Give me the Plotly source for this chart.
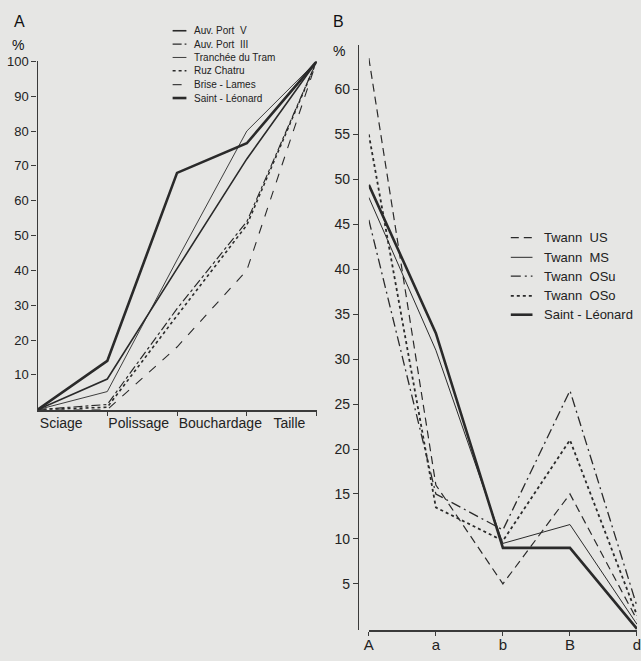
import plotly.graph_objects as go

W, H = 641, 661

# ---- Panel A: cumulative share (%) along the working sequence ----
stages_a = ["Sciage", "Polissage", "Bouchardage", "Taille"]
bounds_a = [0, 1, 2, 3, 4]
auv_port_v = [0, 8.8, 40.5, 72, 100]
auv_port_iii = [0, 1.5, 29, 54, 100]
tranchee_du_tram = [0, 5.2, 43, 80, 100]
ruz_chatru = [0, 0.7, 27, 53, 100]
brise_lames = [0, 0, 18, 40, 100]
saint_leonard_a = [0, 14, 68, 76.5, 100]
yticks_a = [10, 20, 30, 40, 50, 60, 70, 80, 90, 100]

# ---- Panel B: share (%) per class ----
classes_b = ["A", "a", "b", "B", "d"]
twann_us = [63.5, 16, 5, 15, 1]
twann_ms = [48, 31, 9.5, 11.6, 0.5]
twann_osu = [45.5, 15, 11, 26.5, 2.5]
twann_oso = [55, 13.5, 9.8, 21, 1.5]
saint_leonard_b = [49.4, 32.9, 9, 9, 0]
yticks_b = [5, 10, 15, 20, 25, 30, 35, 40, 45, 50, 55, 60]

INK = "#2a2a2a"
BG = "#e6e6e4"
FONT = "Liberation Sans, Arial, sans-serif"
NB = "\u00a0"

series_a = [
    ("Auv. Port" + NB * 2 + "V", auv_port_v, "solid", 1.6),
    ("Auv. Port" + NB * 2 + "III", auv_port_iii, "dashdot", 1.2),
    ("Tranchée du Tram", tranchee_du_tram, "solid", 0.9),
    ("Ruz Chatru", ruz_chatru, "dot", 1.6),
    ("Brise - Lames", brise_lames, "dash", 1.1),
    ("Saint - Léonard", saint_leonard_a, "solid", 2.6),
]
series_b = [
    ("Twann" + NB * 2 + "US", twann_us, "8px,5px", 1.2),
    ("Twann" + NB * 2 + "MS", twann_ms, "solid", 1.0),
    ("Twann" + NB * 2 + "OSu", twann_osu, "10px,4px,2px,4px", 1.3),
    ("Twann" + NB * 2 + "OSo", twann_oso, "dot", 1.8),
    ("Saint - Léonard", saint_leonard_b, "solid", 2.6),
]


def px_x(p):
    return p / W


def px_y(p):
    return 1 - p / H


fig = go.Figure()

for name, vals, dash, width in series_a:
    fig.add_trace(go.Scatter(
        x=bounds_a, y=vals, mode="lines", name=name, showlegend=False,
        line=dict(color=INK, width=width, dash=dash),
        xaxis="x", yaxis="y"))

xb = list(range(len(classes_b)))
for name, vals, dash, width in series_b:
    fig.add_trace(go.Scatter(
        x=xb, y=vals, mode="lines", name=name, showlegend=False,
        line=dict(color=INK, width=width, dash=dash),
        xaxis="x2", yaxis="y2"))

# stage labels sit inside each interval between boundary ticks
label_pos_a = [0.34, 1.45, 2.62, 3.61]

axis_common = dict(showgrid=False, zeroline=False, showline=True,
                   linecolor="#3a3a3a", tickcolor="#3a3a3a",
                   tickfont=dict(family=FONT, color="#222"))

layout_axes = dict(
    xaxis=dict(axis_common, domain=[px_x(33), px_x(316)], range=[0, 4],
               anchor="y", linewidth=2,
               tickmode="array", tickvals=label_pos_a, ticktext=stages_a,
               ticks="", tickfont=dict(family=FONT, size=14, color="#222"),
               minor=dict(tickmode="array", tickvals=[1, 2, 3, 4],
                          ticks="outside", ticklen=4, tickcolor="#3a3a3a",
                          showgrid=False)),
    yaxis=dict(axis_common, domain=[px_y(407), px_y(55)], range=[0, 100],
               anchor="x", linewidth=1.3,
               tickmode="array", tickvals=yticks_a,
               ticks="outside", ticklen=5,
               tickfont=dict(family=FONT, size=13, color="#222")),
    xaxis2=dict(axis_common, domain=[px_x(369), 1.0], range=[0, 4],
                anchor="y2", linewidth=2,
                tickmode="array", tickvals=xb, ticktext=classes_b,
                ticks="outside", ticklen=4, ticklabeloverflow="allow",
                ticklabelstandoff=-4,
                tickfont=dict(family=FONT, size=15, color="#222")),
    yaxis2=dict(axis_common, domain=[px_y(630), px_y(38)], range=[-0.17, 65],
                anchor="free", position=px_x(358), linewidth=1.3,
                tickmode="array", tickvals=yticks_b,
                ticks="outside", ticklen=5,
                tickfont=dict(family=FONT, size=14, color="#222")),
)

shapes = []
annotations = []

# panel letters and unit labels
for txt, x, y, size in [("A", 7, 15, 16), ("%", 5, 38, 14),
                        ("B", 331, 15, 16), ("%", 331, 44, 14)]:
    annotations.append(dict(text=txt, x=px_x(x), y=px_y(y), xref="paper",
                            yref="paper", xanchor="left", yanchor="middle",
                            showarrow=False,
                            font=dict(family=FONT, size=size, color="#111")))

# legend of panel A
rows_a = [24, 37.5, 51, 64.5, 78.5, 92]
for (name, _, dash, width), ry in zip(series_a, rows_a):
    shapes.append(dict(type="line", xref="paper", yref="paper",
                       x0=px_x(170), x1=px_x(184), y0=px_y(ry), y1=px_y(ry),
                       line=dict(color=INK, width=width, dash=dash)))
    annotations.append(dict(text=name, x=px_x(190), y=px_y(ry), xref="paper",
                            yref="paper", xanchor="left", yanchor="middle",
                            showarrow=False,
                            font=dict(family=FONT, size=10, color="#222")))

# legend of panel B
rows_b = [233, 253, 272, 292, 311]
for (name, _, dash, width), ry in zip(series_b, rows_b):
    shapes.append(dict(type="line", xref="paper", yref="paper",
                       x0=px_x(513), x1=px_x(535), y0=px_y(ry), y1=px_y(ry),
                       line=dict(color=INK, width=width, dash=dash)))
    annotations.append(dict(text=name, x=px_x(545), y=px_y(ry), xref="paper",
                            yref="paper", xanchor="left", yanchor="middle",
                            showarrow=False,
                            font=dict(family=FONT, size=13, color="#222")))

fig.update_layout(
    width=W, height=H,
    margin=dict(l=0, r=0, t=0, b=0),
    paper_bgcolor=BG, plot_bgcolor=BG,
    showlegend=False,
    shapes=shapes, annotations=annotations,
    **layout_axes,
)

fig.write_html("out.html", config=dict(displayModeBar=False))
